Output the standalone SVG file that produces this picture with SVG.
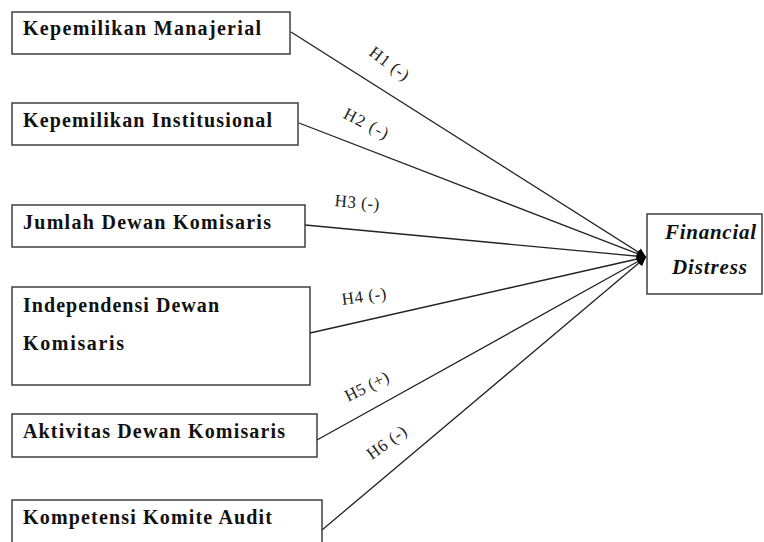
<svg xmlns="http://www.w3.org/2000/svg" width="764" height="542" viewBox="0 0 764 542">
<style>
.box{fill:#fff;stroke:#333;stroke-width:1.4}
.t{font-family:"Liberation Serif","Times New Roman",serif;font-weight:bold;font-size:20px;fill:#111}
.ti{font-family:"Liberation Serif","Times New Roman",serif;font-weight:bold;font-style:italic;font-size:21px;fill:#111}
.c{stroke:#222;stroke-width:1.3;fill:none;marker-end:url(#ah)}
.h{font-family:"Liberation Serif","Times New Roman",serif;font-size:17px;fill:#222;text-anchor:middle}
</style>
<defs>
<marker id="ah" viewBox="0 0 10 10" refX="10" refY="5" markerWidth="10" markerHeight="9" markerUnits="userSpaceOnUse" orient="auto">
<path d="M0,0 L10,5 L0,10 z" fill="#000"/>
</marker>
</defs>
<rect width="764" height="542" fill="#fff"/>
<g id="connectors">
<line class="c" x1="291" y1="32" x2="646" y2="257"/>
<line class="c" x1="299" y1="123" x2="646" y2="257"/>
<line class="c" x1="305" y1="225" x2="646" y2="257"/>
<line class="c" x1="310" y1="333" x2="646" y2="257"/>
<line class="c" x1="317" y1="440" x2="646" y2="257"/>
<line class="c" x1="322" y1="530" x2="646" y2="257"/>
<text class="h" transform="translate(389,64) rotate(37)" y="5" textLength="45">H1 (-)</text>
<text class="h" transform="translate(366,124) rotate(27)" y="5" textLength="48">H2 (-)</text>
<text class="h" transform="translate(357,203) rotate(5)" y="5" textLength="45">H3 (-)</text>
<text class="h" transform="translate(364,297) rotate(-8)" y="5" textLength="45">H4 (-)</text>
<text class="h" transform="translate(367,387) rotate(-27)" y="5" textLength="47">H5 (+)</text>
<text class="h" transform="translate(387,443) rotate(-36)" y="5" textLength="45">H6 (-)</text>
</g>
<g id="n1"><rect class="box" x="12" y="12" width="278" height="42"/><text class="t" x="23" y="35" textLength="238" lengthAdjust="spacing">Kepemilikan Manajerial</text></g>
<g id="n2"><rect class="box" x="12" y="103" width="286" height="42"/><text class="t" x="23" y="127" textLength="249" lengthAdjust="spacing">Kepemilikan Institusional</text></g>
<g id="n3"><rect class="box" x="12" y="205" width="293" height="42"/><text class="t" x="23" y="229" textLength="248" lengthAdjust="spacing">Jumlah Dewan Komisaris</text></g>
<g id="n4"><rect class="box" x="12" y="287" width="298" height="98"/><text class="t" x="23" y="312" textLength="196" lengthAdjust="spacing">Independensi Dewan</text><text class="t" x="23" y="350" textLength="101" lengthAdjust="spacing">Komisaris</text></g>
<g id="n5"><rect class="box" x="12" y="414" width="305" height="43"/><text class="t" x="23" y="438" textLength="262" lengthAdjust="spacing">Aktivitas Dewan Komisaris</text></g>
<g id="n6"><rect class="box" x="12" y="500" width="310" height="60"/><text class="t" x="23" y="524" textLength="249" lengthAdjust="spacing">Kompetensi Komite Audit</text></g>
<g id="fd"><rect class="box" x="647" y="214" width="115" height="80"/><text class="ti" x="665" y="239" textLength="91" lengthAdjust="spacing">Financial</text><text class="ti" x="672" y="274" textLength="75" lengthAdjust="spacing">Distress</text></g>
</svg>
